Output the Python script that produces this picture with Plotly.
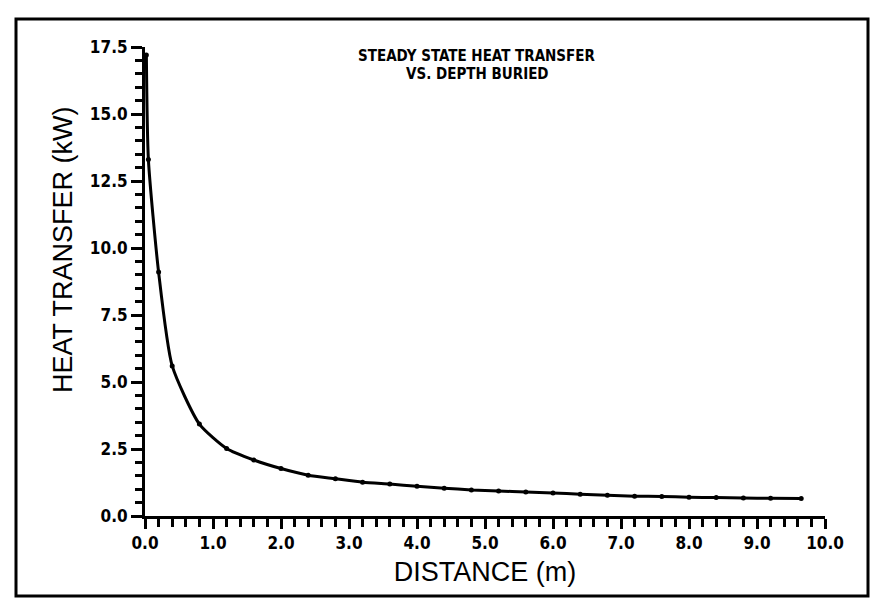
import plotly.graph_objects as go

# Data
distance_m = [0.02, 0.05, 0.2, 0.4, 0.8, 1.2, 1.6, 2.0, 2.4, 2.8, 3.2, 3.6, 4.0, 4.4,
              4.8, 5.2, 5.6, 6.0, 6.4, 6.8, 7.2, 7.6, 8.0, 8.4, 8.8, 9.2, 9.65]
heat_kw = [17.2, 13.3, 9.1, 5.6, 3.43, 2.52, 2.09, 1.77, 1.52, 1.39, 1.26, 1.19, 1.11, 1.04,
           0.97, 0.93, 0.90, 0.86, 0.81, 0.77, 0.74, 0.73, 0.70, 0.69, 0.67, 0.66, 0.65]

x_tickvals = [0, 1, 2, 3, 4, 5, 6, 7, 8, 9, 10]
x_ticktext = ["0.0", "1.0", "2.0", "3.0", "4.0", "5.0", "6.0", "7.0", "8.0", "9.0", "10.0"]
y_tickvals = [0, 2.5, 5, 7.5, 10, 12.5, 15, 17.5]
y_ticktext = ["0.0", "2.5", "5.0", "7.5", "10.0", "12.5", "15.0", "17.5"]

title_lines = ["STEADY STATE HEAT TRANSFER", "VS. DEPTH BURIED"]
x_title = "DISTANCE (m)"
y_title = "HEAT TRANSFER (kW)"

W, H = 875, 616
ML, MR, MT, MB = 145, 50, 47, 100
PW, PH = W - ML - MR, H - MT - MB

def px_to_paper_x(px):
    return (px - ML) / PW

def py_to_paper_y(py):
    return (H - MB - py) / PH

NARROW = "DejaVu Sans Condensed, Liberation Sans Narrow, Liberation Sans, Arial, sans-serif"
SANS = "Liberation Sans, Arial, sans-serif"

fig = go.Figure()
fig.add_trace(go.Scatter(
    x=distance_m, y=heat_kw, mode="lines+markers",
    line=dict(color="black", width=3, shape="spline", smoothing=0.6),
    marker=dict(color="black", size=5),
    showlegend=False,
))

tick_font = dict(family=NARROW, size=17, color="black", weight="bold")

fig.update_layout(
    width=W, height=H,
    margin=dict(l=ML, r=MR, t=MT, b=MB),
    plot_bgcolor="white",
    xaxis=dict(
        range=[0, 10], gridcolor="white",
        showline=True, linecolor="black", linewidth=3,
        ticks="outside", ticklen=10, tickwidth=3, tickcolor="#000000",
        tickvals=x_tickvals, ticktext=x_ticktext,
        tickfont=tick_font,
        minor=dict(dtick=0.2, ticks="outside", ticklen=8, tickwidth=3, tickcolor="#000000"),
        title=dict(text=x_title, font=dict(family=SANS, size=27, color="black"), standoff=10),
    ),
    yaxis=dict(
        range=[0, 17.5], gridcolor="white", zerolinecolor="white",
        showline=True, linecolor="black", linewidth=3,
        ticks="outside", ticklen=11, tickwidth=3, tickcolor="#000000",
        tickvals=y_tickvals, ticktext=y_ticktext,
        tickfont=tick_font,
        minor=dict(dtick=0.5, ticks="outside", ticklen=7, tickwidth=3, tickcolor="#000000"),
    ),
    annotations=[
        dict(text=title_lines[0], xref="paper", yref="paper",
             x=px_to_paper_x(477), y=py_to_paper_y(56), xanchor="center", yanchor="middle",
             showarrow=False, font=dict(family=NARROW, size=15, color="black", weight="bold")),
        dict(text=title_lines[1], xref="paper", yref="paper",
             x=px_to_paper_x(477), y=py_to_paper_y(74), xanchor="center", yanchor="middle",
             showarrow=False, font=dict(family=NARROW, size=15, color="black", weight="bold")),
        dict(text=y_title, xref="paper", yref="paper", textangle=-90,
             x=px_to_paper_x(63), y=py_to_paper_y(250), xanchor="center", yanchor="middle",
             showarrow=False, font=dict(family=SANS, size=27, color="black")),
    ],
    shapes=[
        dict(type="rect", xref="paper", yref="paper",
             x0=px_to_paper_x(16), x1=px_to_paper_x(868),
             y0=py_to_paper_y(596), y1=py_to_paper_y(19),
             line=dict(color="black", width=3), layer="above"),
    ],
)

fig.write_html("out.html")
